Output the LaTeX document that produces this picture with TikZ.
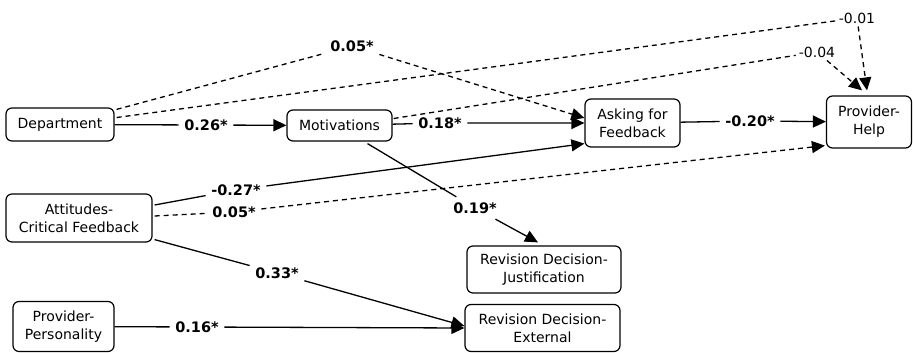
\documentclass[tikz,border=0pt]{standalone}
\usepackage{fontspec}
\setmainfont{DejaVu Sans}
\usetikzlibrary{arrows.meta,calc}
\begin{document}
\begin{tikzpicture}[x=1pt,y=-1pt,
  box/.style={draw,rounded corners=6pt,line width=1.2pt,align=center,
    font=\fontsize{14}{18}\selectfont,inner sep=2pt},
  lab/.style={font=\fontsize{14.5}{16}\selectfont\bfseries,inner sep=5.5pt},
  nlab/.style={font=\fontsize{14}{16}\selectfont,inner sep=3pt},
  conn/.style={line width=1.3pt,-{Triangle[length=13pt,width=12pt]}},
  dsh/.style={conn,dash pattern=on 5pt off 4pt}]
\useasboundingbox (0,0) rectangle (913,353);
% boxes
\node[box,minimum width=108pt,minimum height=33pt] (dep) at (60,124.5) {Department};
\node[box,minimum width=105pt,minimum height=31pt] (mot) at (339.5,125.5) {Motivations};
\node[box,minimum width=95pt,minimum height=48pt] (ask) at (632.5,123) {Asking for\\Feedback};
\node[box,minimum width=85pt,minimum height=52pt] (ph) at (869,122) {Provider-\\Help};
\node[box,minimum width=146pt,minimum height=48pt] (att) at (79,218) {Attitudes-\\Critical Feedback};
\node[box,minimum width=101pt,minimum height=50pt] (pp) at (63.5,326.5) {Provider-\\Personality};
\node[box,minimum width=154pt,minimum height=47pt] (rdj) at (544,269.5) {Revision Decision-\\Justification};
\node[box,minimum width=155pt,minimum height=47pt] (rde) at (542.5,328) {Revision Decision-\\External};
% labels
\node[lab] (l026) at (206,125) {0.26*};
\node[lab] (l018) at (440,123) {0.18*};
\node[lab] (l020) at (750,121) {-0.20*};
\node[lab] (l005a) at (352,46) {0.05*};
\node[nlab] (l001) at (857,18) {-0.01};
\node[nlab] (l004) at (817,52) {-0.04};
\node[lab] (l027) at (236,190) {-0.27*};
\node[lab] (l005b) at (234,212) {0.05*};
\node[lab] (l033) at (277,273) {0.33*};
\node[lab] (l016) at (197,327) {0.16*};
\node[lab] (l019) at (475,208) {0.19*};
% connectors
\draw[conn] (dep) -- (l026) -- (mot);
\draw[conn] (mot) -- (l018) -- (ask.west);
\draw[conn] (ask) -- (l020) -- (ph);
\draw[dsh] ($(dep.north east)+(2,2)$) -- (l005a) -- ($(ask.west)+(0,-5)$);
\draw[dsh] ($(dep.east)+(2,-7)$) -- (l001) -- ($(ph.north)+(-2,-5)$);
\draw[dsh] ($(mot.east)+(1,-7)$) -- (l004) -- ($(ph.north)+(-7,-5)$);
\draw[conn] ($(att.east)+(2,-13)$) -- (l027) -- ($(ask.south west)+(0,-4)$);
\draw[dsh] ($(att.east)+(2,-2)$) -- (l005b) -- ($(ph.south west)+(-1,-3)$);
\draw[conn] ($(att.south east)+(2,-3)$) -- (l033) -- ($(rde.west)+(0,-2)$);
\draw[conn] (pp) -- (l016) -- (rde.west);
\draw[conn] ($(mot.south)+(28,2)$) -- (l019) -- ($(rdj.north)+(-6,-3)$);
\end{tikzpicture}
\end{document}
